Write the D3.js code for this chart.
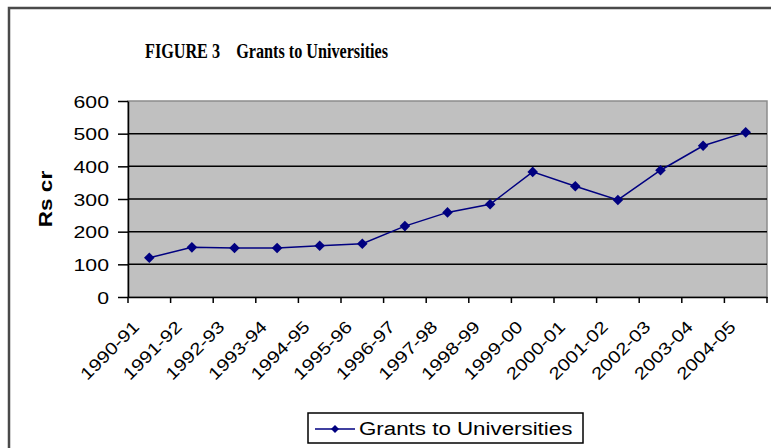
<!DOCTYPE html>
<html>
<head>
<meta charset="utf-8">
<script src="https://cdn.jsdelivr.net/npm/d3@7"></script>
<style>
  body { margin: 0; background: #fff; }
  svg { display: block; }
</style>
</head>
<body>
<div id="chart"></div>
<script>
var years = ['1990-91', '1991-92', '1992-93', '1993-94', '1994-95', '1995-96', '1996-97',
  '1997-98', '1998-99', '1999-00', '2000-01', '2001-02', '2002-03', '2003-04', '2004-05'];
var grants = [120, 152, 150, 150, 157, 163, 217, 259, 284, 383, 339, 297, 388, 463, 504];
var yTicks = [0, 100, 200, 300, 400, 500, 600];
var seriesName = 'Grants to Universities';
var titleText = 'FIGURE 3    Grants to Universities';
var yLabel = 'Rs cr';

var width = 771, height = 448;
// plot area edges (window.top is read-only, so no plain "top")
var plotLeft = 128, plotRight = 767, plotTop = 101, plotBottom = 297;

// the picture is a bit wider than the fonts, stretch text to fit
function stretch(sel, k) {
  sel.each(function () {
    var w = this.getComputedTextLength();
    d3.select(this).attr('textLength', w * k).attr('lengthAdjust', 'spacingAndGlyphs');
  });
}

// excel-like marker: square diamond
var squareDiamond = {
  draw: function (context, size) {
    var r = Math.sqrt(size / 2);
    context.moveTo(0, -r);
    context.lineTo(r, 0);
    context.lineTo(0, r);
    context.lineTo(-r, 0);
    context.closePath();
  }
};

var svg = d3.select('#chart').append('svg')
  .attr('width', width)
  .attr('height', height);

// outer frame (cut off on right and bottom)
svg.append('path')
  .attr('d', 'M9,' + (height + 5) + 'V8H' + (width + 5))
  .attr('fill', 'none')
  .attr('stroke', '#4a4a4a')
  .attr('stroke-width', 2.5);

svg.append('text')
  .attr('x', 145)
  .attr('y', 58)
  .attr('font-family', 'Liberation Serif, Times New Roman, serif')
  .attr('font-weight', 'bold')
  .attr('font-size', 22)
  .attr('xml:space', 'preserve')
  .attr('textLength', 243)
  .attr('lengthAdjust', 'spacingAndGlyphs')
  .text(titleText);

var x = d3.scaleBand().domain(years).range([plotLeft, plotRight]).paddingInner(0).paddingOuter(0);
var y = d3.scaleLinear().domain([0, 600]).range([plotBottom, plotTop]);

// plot area
svg.append('rect')
  .attr('x', plotLeft).attr('y', plotTop)
  .attr('width', plotRight - plotLeft).attr('height', plotBottom - plotTop)
  .attr('fill', '#c0c0c0')
  .attr('stroke', '#8c8c8c')
  .attr('stroke-width', 1.5);

// grid
svg.append('g').selectAll('line')
  .data(yTicks.filter(function (d) { return d > 0 && d < 600; }))
  .enter().append('line')
  .attr('x1', plotLeft).attr('x2', plotRight)
  .attr('y1', function (d) { return y(d); })
  .attr('y2', function (d) { return y(d); })
  .attr('stroke', '#000')
  .attr('stroke-width', 1.5);

// y axis
var yAxis = svg.append('g')
  .attr('transform', 'translate(' + plotLeft + ',0)')
  .call(d3.axisLeft(y).tickValues(yTicks).tickSize(10).tickSizeOuter(0).tickPadding(9));
yAxis.select('.domain').attr('stroke', '#000').attr('stroke-width', 1.5);
yAxis.selectAll('.tick line').attr('stroke', '#000').attr('stroke-width', 1.5);
yAxis.selectAll('text')
  .attr('font-family', 'Liberation Sans, Arial, sans-serif')
  .attr('font-size', 17)
  .attr('fill', '#000')
  .attr('dy', '0.36em')
  .call(stretch, 1.25);

// x axis
var xAxis = svg.append('g')
  .attr('transform', 'translate(0,' + plotBottom + ')')
  .call(d3.axisBottom(x).tickSize(0).tickSizeOuter(0).tickPadding(0));
xAxis.select('.domain').attr('stroke', '#000').attr('stroke-width', 1.5);
xAxis.selectAll('.tick text')
  .attr('font-family', 'Liberation Sans, Arial, sans-serif')
  .attr('font-size', 17)
  .attr('fill', '#000')
  .attr('text-anchor', 'end')
  .attr('y', 0)
  .attr('dy', 0)
  .attr('transform', 'translate(-9,31) rotate(-45)')
  .call(stretch, 1.2);

// category boundary ticks
var bounds = years.map(function (d) { return x(d); }).concat([x(years[years.length - 1]) + x.bandwidth()]);
xAxis.selectAll('.bound')
  .data(bounds)
  .enter().append('line')
  .attr('class', 'bound')
  .attr('x1', function (d) { return d; })
  .attr('x2', function (d) { return d; })
  .attr('y1', 0).attr('y2', 6)
  .attr('stroke', '#000')
  .attr('stroke-width', 1.5);

// y label
svg.append('text')
  .attr('transform', 'translate(52,' + ((plotTop + plotBottom) / 2) + ') rotate(-90)')
  .attr('text-anchor', 'middle')
  .attr('font-family', 'Liberation Sans, Arial, sans-serif')
  .attr('font-weight', 'bold')
  .attr('font-size', 18)
  .attr('xml:space', 'preserve')
  .text(yLabel)
  .call(stretch, 1.25);

// series
var line = d3.line()
  .x(function (d, i) { return x(years[i]) + x.bandwidth() / 2; })
  .y(function (d) { return y(d); });

svg.append('path')
  .datum(grants)
  .attr('d', line)
  .attr('fill', 'none')
  .attr('stroke', '#000080')
  .attr('stroke-width', 1.5);

var marker = d3.symbol().type(squareDiamond).size(56);
svg.append('g').selectAll('path')
  .data(grants)
  .enter().append('path')
  .attr('d', marker)
  .attr('transform', function (d, i) {
    return 'translate(' + (x(years[i]) + x.bandwidth() / 2) + ',' + y(d) + ')';
  })
  .attr('fill', '#000080');

// legend
var legend = svg.append('g');
legend.append('rect')
  .attr('x', 308).attr('y', 413)
  .attr('width', 275).attr('height', 30)
  .attr('fill', '#fff')
  .attr('stroke', '#000')
  .attr('stroke-width', 1.5);
legend.append('line')
  .attr('x1', 315).attr('x2', 355)
  .attr('y1', 429).attr('y2', 429)
  .attr('stroke', '#000080')
  .attr('stroke-width', 1.5);
legend.append('path')
  .attr('d', d3.symbol().type(squareDiamond).size(32))
  .attr('transform', 'translate(335,429)')
  .attr('fill', '#000080');
legend.append('text')
  .attr('x', 359)
  .attr('y', 435)
  .attr('font-family', 'Liberation Sans, Arial, sans-serif')
  .attr('font-size', 18)
  .attr('fill', '#000')
  .text(seriesName)
  .call(stretch, 1.24);
</script>
</body>
</html>
